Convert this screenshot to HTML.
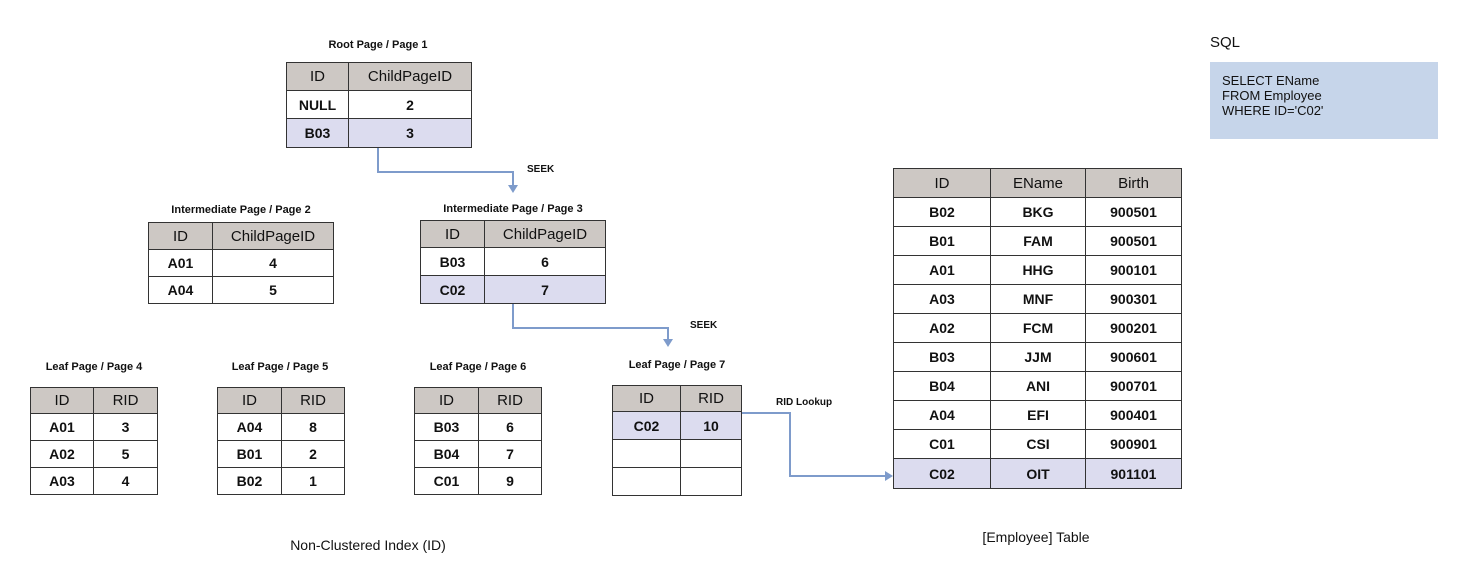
<!DOCTYPE html>
<html><head><meta charset="utf-8"><style>
body{margin:0;width:1475px;height:575px;background:#fff;position:relative;overflow:hidden;font-family:"Liberation Sans",sans-serif;color:#111}
table{position:absolute;border-collapse:collapse;table-layout:fixed}
td{border:1.5px solid #333;text-align:center;padding:0;font-size:14px;font-weight:bold}
tr.h td{background:#cdc8c4;font-weight:normal;font-size:15px}
tr.s td{background:#dcdcef}
.t{position:absolute;font-size:11px;font-weight:bold;white-space:nowrap;transform:translateX(-50%)}
.cap{position:absolute;font-size:14px;white-space:nowrap;transform:translateX(-50%)}
.lbl{position:absolute;font-size:10px;font-weight:bold}
</style></head><body>
<svg width="1475" height="575" style="position:absolute;left:0;top:0">
<g fill="none" stroke="#7e9bcb" stroke-width="2">
<polyline points="378,148 378,172 513,172 513,186"/>
<polyline points="513,303 513,328 668,328 668,340"/>
<polyline points="742,413 790,413 790,476 886,476"/>
</g>
<g fill="#7e9bcb">
<polygon points="508,185 518,185 513,193"/>
<polygon points="663,339 673,339 668,347"/>
<polygon points="885,471 885,481 893,476"/>
</g>
</svg>
<div class="t" style="left:378px;top:39px">Root Page / Page 1</div>
<table style="left:286px;top:62px;width:186px"><col style="width:62px"><col>
<tr class="h" style="height:28px"><td>ID</td><td>ChildPageID</td></tr>
<tr style="height:28px"><td>NULL</td><td>2</td></tr>
<tr class="s" style="height:29px"><td>B03</td><td>3</td></tr></table>
<div class="lbl" style="left:527px;top:164px">SEEK</div>

<div class="t" style="left:241px;top:204px">Intermediate Page / Page 2</div>
<table style="left:148px;top:222px;width:186px"><col style="width:64px"><col>
<tr class="h" style="height:27px"><td>ID</td><td>ChildPageID</td></tr>
<tr style="height:27px"><td>A01</td><td>4</td></tr>
<tr style="height:27px"><td>A04</td><td>5</td></tr></table>

<div class="t" style="left:513px;top:203px">Intermediate Page / Page 3</div>
<table style="left:420px;top:220px;width:186px"><col style="width:64px"><col>
<tr class="h" style="height:27px"><td>ID</td><td>ChildPageID</td></tr>
<tr style="height:28px"><td>B03</td><td>6</td></tr>
<tr class="s" style="height:28px"><td>C02</td><td>7</td></tr></table>
<div class="lbl" style="left:690px;top:320px">SEEK</div>

<div class="t" style="left:94px;top:361px">Leaf Page / Page 4</div>
<table style="left:30px;top:387px;width:128px"><col style="width:63px"><col>
<tr class="h" style="height:26px"><td>ID</td><td>RID</td></tr>
<tr style="height:27px"><td>A01</td><td>3</td></tr>
<tr style="height:27px"><td>A02</td><td>5</td></tr>
<tr style="height:27px"><td>A03</td><td>4</td></tr></table>

<div class="t" style="left:280px;top:361px">Leaf Page / Page 5</div>
<table style="left:217px;top:387px;width:128px"><col style="width:64px"><col>
<tr class="h" style="height:26px"><td>ID</td><td>RID</td></tr>
<tr style="height:27px"><td>A04</td><td>8</td></tr>
<tr style="height:27px"><td>B01</td><td>2</td></tr>
<tr style="height:27px"><td>B02</td><td>1</td></tr></table>

<div class="t" style="left:478px;top:361px">Leaf Page / Page 6</div>
<table style="left:414px;top:387px;width:128px"><col style="width:64px"><col>
<tr class="h" style="height:26px"><td>ID</td><td>RID</td></tr>
<tr style="height:27px"><td>B03</td><td>6</td></tr>
<tr style="height:27px"><td>B04</td><td>7</td></tr>
<tr style="height:27px"><td>C01</td><td>9</td></tr></table>

<div class="t" style="left:677px;top:359px">Leaf Page / Page 7</div>
<table style="left:612px;top:385px;width:130px"><col style="width:68px"><col>
<tr class="h" style="height:26px"><td>ID</td><td>RID</td></tr>
<tr class="s" style="height:28px"><td>C02</td><td>10</td></tr>
<tr style="height:28px"><td></td><td></td></tr>
<tr style="height:28px"><td></td><td></td></tr></table>
<div class="lbl" style="left:776px;top:397px">RID Lookup</div>

<table style="left:893px;top:168px;width:289px"><col style="width:97px"><col style="width:95px"><col>
<tr class="h" style="height:29px"><td>ID</td><td>EName</td><td>Birth</td></tr>
<tr style="height:29px"><td>B02</td><td>BKG</td><td>900501</td></tr>
<tr style="height:29px"><td>B01</td><td>FAM</td><td>900501</td></tr>
<tr style="height:29px"><td>A01</td><td>HHG</td><td>900101</td></tr>
<tr style="height:29px"><td>A03</td><td>MNF</td><td>900301</td></tr>
<tr style="height:29px"><td>A02</td><td>FCM</td><td>900201</td></tr>
<tr style="height:29px"><td>B03</td><td>JJM</td><td>900601</td></tr>
<tr style="height:29px"><td>B04</td><td>ANI</td><td>900701</td></tr>
<tr style="height:29px"><td>A04</td><td>EFI</td><td>900401</td></tr>
<tr style="height:29px"><td>C01</td><td>CSI</td><td>900901</td></tr>
<tr class="s" style="height:30px"><td>C02</td><td>OIT</td><td>901101</td></tr></table>

<div style="position:absolute;left:1210px;top:34px;font-size:15px">SQL</div>
<div style="position:absolute;left:1210px;top:62px;width:228px;height:77px;background:#c6d5ea;font-size:13px;line-height:15px;box-sizing:border-box;padding:11px 0 0 12px">SELECT EName<br>FROM Employee<br>WHERE ID='C02'</div>

<div class="cap" style="left:368px;top:537px">Non-Clustered Index (ID)</div>
<div class="cap" style="left:1036px;top:529px">[Employee] Table</div>
</body></html>
